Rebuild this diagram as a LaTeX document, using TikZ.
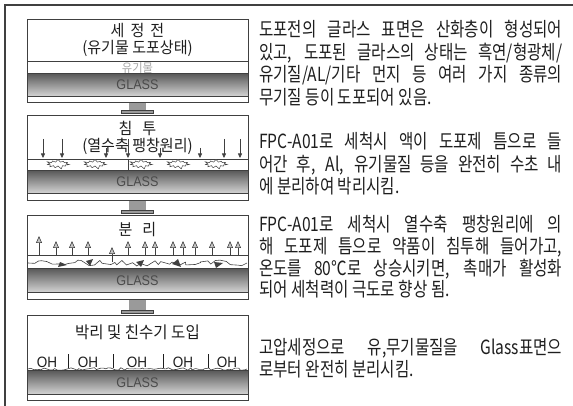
\documentclass[tikz,border=0pt]{standalone}
\usepackage{fontspec}
\setmainfont{Noto Sans CJK KR}[FakeStretch=0.8]
\newfontfamily\titlefont{Noto Sans CJK KR}[FakeStretch=0.94]
\newfontfamily\glassfont{Liberation Sans}[FakeStretch=0.9]
\usetikzlibrary{positioning,arrows.meta,shapes.symbols,decorations.pathmorphing}
\definecolor{inkgray}{HTML}{1E1E1E}
\definecolor{framegray}{HTML}{404040}
\definecolor{glasstop}{HTML}{585858}
\definecolor{glassbot}{HTML}{D4D4D4}
\definecolor{flowgray}{HTML}{9A9A9A}
\tikzset{
  % --- process panels on the left ---
  panel/.style={draw=framegray, line width=.9pt, minimum width=221pt,
                inner sep=0pt, anchor=north},
  glass/.style={draw=framegray, line width=.6pt, top color=glasstop,
                bottom color=glassbot, minimum width=221pt, inner sep=0pt,
                anchor=north, text=inkgray!80,
                font=\glassfont\fontsize{14}{14}\selectfont},
  ptitle/.style={inner sep=0pt, text=inkgray,
                 font=\titlefont\fontsize{16}{16}\selectfont},
  layer/.style={draw=framegray, line width=.6pt},
  % --- arrows inside the panels ---
  push/.style={-{Triangle[length=4.5pt,width=4pt]}, line width=.6pt,
               draw=framegray},
  lift/.style={-{Triangle[length=7pt,width=6pt,fill=gray!45]},
               line width=.6pt, draw=framegray},
  blob/.style={starburst, starburst points=11, starburst point height=3.5pt,
               draw=framegray, fill=white, line width=.5pt,
               minimum width=24pt, minimum height=11pt, inner sep=0pt},
  debris/.style={draw=framegray, line width=.6pt, decorate,
                 decoration={random steps, segment length=5pt, amplitude=3pt}},
  oh/.style={inner sep=0pt, text=inkgray,
             font=\glassfont\fontsize{15}{15}\selectfont},
  ohsep/.style={draw=inkgray, line width=.8pt},
  % --- step arrows between the panels ---
  flowstem/.style={draw=flowgray, line width=17pt},
  flowhead/.style={draw=framegray, fill=flowgray, line width=.5pt,
                   minimum width=32pt, minimum height=3pt, inner sep=0pt},
  % --- explanation text on the right ---
  note/.style={anchor=base west, inner sep=0pt, text=inkgray,
               font=\fontsize{19.5}{19.5}\selectfont},
}
\newcommand{\fullline}[1]{\makebox[303pt][s]{#1}}

\begin{document}
\begin{tikzpicture}[x=1pt,y=-1pt]
  \useasboundingbox (0,0) rectangle (573,406);
  \pgfmathsetseed{11}
  % outer frame, open to the right and bottom
  \draw[framegray, line width=1.2pt] (5,412) -- (5,5) -- (580,5);

  % --- panel 1: before cleaning ---
  \node[panel, minimum height=83pt] (pre) at (137.5,19) {};
  \node[ptitle] (pretitle) at (137.5,31) {세\hspace{6pt}정\hspace{6pt}전};
  \node[ptitle] (presub) at (137.5,48.5) {(유기물 도포상태)};
  \draw[layer] (27,61) -- (248,61);
  \node[inner sep=0pt, text=gray!70, font=\titlefont\fontsize{12}{12}\selectfont]
       (prefilm) at (137.5,68) {유기물};
  \node[glass, minimum height=23pt] (preglass) at (137.5,73) {GLASS};

  % --- panel 2: soaking ---
  \node[panel, minimum height=85pt] (soak) at (137.5,115) {};
  \node[ptitle] (soaktitle) at (137.5,128) {침\hspace{10pt}투};
  \node[ptitle] (soaksub) at (137.5,146) {(열수축 팽창원리)};
  \draw[layer] (27,159) -- (248,159);
  \draw[push] (43,139) -- (43,158);   \draw[push] (62,139) -- (62,158);
  \draw[push] (106,148) -- (106,158); \draw[push] (128,139) -- (128,158);
  \draw[push] (160,148) -- (160,158); \draw[push] (200,148) -- (200,158);
  \draw[push] (224,139) -- (224,158); \draw[push] (240,139) -- (240,158);
  \draw[layer] (128,159) -- (128,170);
  \node[blob] (crack1) at (58,164) {};
  \node[blob] (crack2) at (95,164) {};
  \node[blob] (crack3) at (141,164) {};
  \node[blob] (crack4) at (178,164) {};
  \node[blob] (crack5) at (216,164) {};
  \node[glass, minimum height=23pt] (soakglass) at (137.5,170) {GLASS};

  % --- panel 3: separation ---
  \node[panel, minimum height=84pt] (lift) at (137.5,215) {};
  \node[ptitle] (lifttitle) at (137.5,230) {분\hspace{10pt}리};
  \draw[layer] (27,255) -- (248,255);
  \draw[debris] (28,263) -- (247,263);
  \fill[framegray] (60,262) -- (67,265) -- (58,267) -- cycle;
  \fill[framegray] (86,261) -- (93,259) -- (90,266) -- cycle;
  \fill[framegray] (136,262) -- (144,260) -- (141,267) -- cycle;
  \fill[framegray] (172,264) -- (178,259) -- (181,267) -- cycle;
  \fill[framegray] (214,262) -- (223,263) -- (216,268) -- cycle;
  \draw[lift] (39,255) -- (39,236);  \draw[lift] (56,255) -- (56,241);
  \draw[lift] (72,255) -- (72,241);  \draw[lift] (88,255) -- (88,241);
  \draw[lift] (112,262) -- (112,247); \draw[lift] (128,255) -- (128,241);
  \draw[lift] (145,255) -- (145,241); \draw[lift] (155,255) -- (155,241);
  \draw[lift] (173,255) -- (173,241); \draw[lift] (183,255) -- (183,241);
  \draw[lift] (195,255) -- (195,241); \draw[lift] (212,255) -- (212,241);
  \draw[lift] (230,255) -- (230,241); \draw[lift] (238,255) -- (238,241);
  \node[glass, minimum height=24pt] (liftglass) at (137.5,268) {GLASS};

  % --- panel 4: peeling and hydrophilic groups ---
  \node[panel, minimum height=85pt] (finish) at (137.5,315) {};
  \node[ptitle, font=\titlefont\fontsize{16.5}{16.5}\selectfont]
       (finishtitle) at (137.5,332) {박리 및 친수기 도입};
  \node[oh] (oh1) at (47,362) {OH};
  \node[oh] (oh2) at (88,362) {OH};
  \node[oh] (oh3) at (137,362) {OH};
  \node[oh] (oh4) at (183,362) {OH};
  \node[oh] (oh5) at (227,362) {OH};
  \draw[ohsep] (68,354) -- (68,368);   \draw[ohsep] (113,354) -- (113,368);
  \draw[ohsep] (163,354) -- (163,368); \draw[ohsep] (208,354) -- (208,368);
  \node[glass, minimum height=24pt] (finishglass) at (137.5,370) {GLASS};
  \draw[layer, decorate, decoration={random steps, segment length=3pt,
        amplitude=1.3pt}] (28,369) -- (247,369);

  % --- step arrows ---
  \draw[flowstem] (pre.south) -- ([yshift=5pt]soak.north)
        node[flowhead, anchor=north] (flow1) {};
  \draw[flowstem] (soak.south) -- ([yshift=5pt]lift.north)
        node[flowhead, anchor=north] (flow2) {};
  \draw[flowstem] (lift.south) -- ([yshift=5pt]finish.north)
        node[flowhead, anchor=north] (flow3) {};

  % --- explanations ---
  \node[note] (pre1) at (259,37)   {\fullline{도포전의 글라스 표면은 산화층이 형성되어}};
  \node[note] (pre2) at (259,59.5) {\fullline{있고, 도포된 글라스의 상태는 흑연/형광체/}};
  \node[note] (pre3) at (259,82)   {\fullline{유기질/AL/기타 먼지 등 여러 가지 종류의}};
  \node[note] (pre4) at (259,104.5){무기질 등이 도포되어 있음.};

  \node[note] (soak1) at (259,149)   {\fullline{FPC-A01로 세척시 액이 도포제 틈으로 들}};
  \node[note] (soak2) at (259,171.5) {\fullline{어간 후, Al, 유기물질 등을 완전히 수초 내}};
  \node[note] (soak3) at (259,194)   {에 분리하여 박리시킴.};

  \node[note] (lift1) at (259,232)   {\fullline{FPC-A01로 세척시 열수축 팽창원리에 의}};
  \node[note] (lift2) at (259,253.5) {\fullline{해 도포제 틈으로 약품이 침투해 들어가고,}};
  \node[note] (lift3) at (259,275)   {\fullline{온도를 80℃로 상승시키면, 촉매가 활성화}};
  \node[note] (lift4) at (259,296.5) {되어 세척력이 극도로 향상 됨.};

  \node[note] (finish1) at (259,354) {\fullline{고압세정으로 유,무기물질을 Glass표면으}};
  \node[note] (finish2) at (259,376) {로부터 완전히 분리시킴.};
\end{tikzpicture}
\end{document}
